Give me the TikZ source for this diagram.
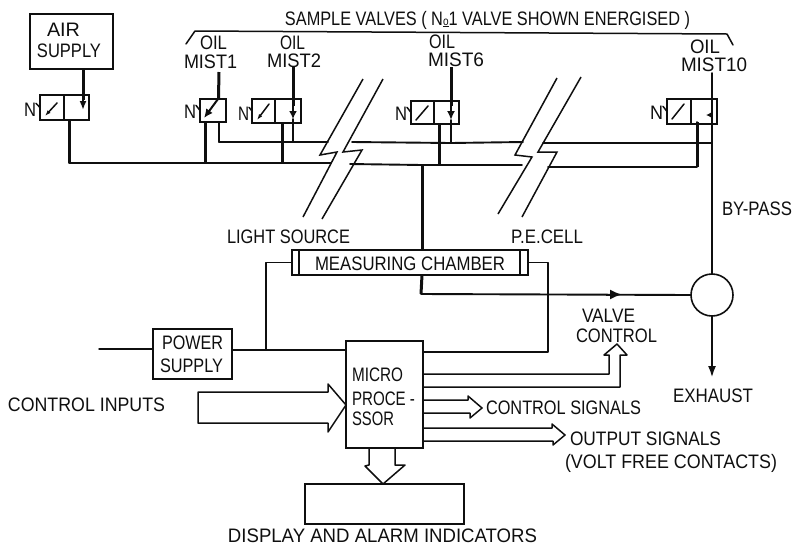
\documentclass[tikz,border=0pt]{standalone}
\usepackage{fontspec}
\usepackage{graphicx}
\setmainfont{Liberation Sans}
\usetikzlibrary{arrows.meta,calc}
\definecolor{ink}{gray}{0.06}
\tikzset{
  thinl/.style={draw=ink,line width=1.5pt,line join=round,line cap=round},
  busl/.style={draw=ink,line width=1.9pt,line join=round,line cap=round},
  heavyl/.style={draw=ink,line width=3pt,line join=round},
  breakl/.style={draw=ink,line width=1.5pt,line join=miter},
  boxs/.style={draw=ink,line width=1.6pt,inner sep=0pt,outer sep=0pt,fill=white},
  lab/.style={inner sep=0pt,outer sep=0pt,text=ink,anchor=center}
}
% name, x1, x2, y-centre, text
\newcommand{\lbl}[5]{%
  \pgfmathsetmacro{\lcx}{(#2+#3)/2}\pgfmathsetmacro{\lw}{#3-#2}%
  \node[lab] (#1) at (\lcx,#4) {\resizebox{\lw pt}{\height}{\fontsize{19.5}{19.5}\selectfont #5}};}
% name, x1, y1, x2, y2
\newcommand{\bx}[5]{%
  \pgfmathsetmacro{\bcx}{(#2+#4)/2}\pgfmathsetmacro{\bcy}{(#3+#5)/2}%
  \pgfmathsetmacro{\bw}{#4-#2}\pgfmathsetmacro{\bh}{#5-#3}%
  \node[boxs,minimum width=\bw pt,minimum height=\bh pt] (#1) at (\bcx,\bcy) {};}
\begin{document}
\begin{tikzpicture}[x=1pt,y=-1pt]
\useasboundingbox (0,0) rectangle (794,547);
\fill[white] (0,0) rectangle (794,547);

% boxes
\bx{air}{30}{14}{113}{69}
\bx{v0l}{40}{95}{64}{120}
\bx{v0r}{64}{95}{89}{120}
\bx{v1}{200}{99}{226}{122}
\bx{v2l}{252}{99}{275}{123}
\bx{v2r}{275}{99}{301}{123}
\bx{v6l}{411}{101}{434}{124}
\bx{v6r}{434}{101}{459}{124}
\bx{v10l}{667}{99}{691}{124}
\bx{v10r}{691}{99}{717}{124}
\bx{chamber}{292}{250}{528}{275}
\bx{lsrc}{292}{250}{299}{275}
\bx{pec}{520}{250}{528}{275}
\bx{psu}{153}{329}{232}{379}
\bx{micro}{346}{341}{423}{448}
\bx{disp}{305}{484}{464}{524}
\node[boxs,circle,minimum size=42pt] (vlv) at (712,295) {};

% named junctions
\coordinate (b0) at (69,163);
\coordinate (b1) at (205,163);
\coordinate (b2) at (282,163);
\coordinate (bm) at (439,165);
\coordinate (bc) at (422,165);
\coordinate (u1) at (219,142);
\coordinate (u2) at (293,142);
\coordinate (u6) at (451,143);
\coordinate (u10) at (712,143);
\coordinate (l10) at (697,167);
\coordinate (t1) at (219,72);
\coordinate (t2) at (293,67);
\coordinate (t6) at (451,67);
\coordinate (t10) at (712,73);
\coordinate (pin) at (99,349);
\coordinate (pjoin) at (266,350);
\coordinate (exh) at (712,378);
\coordinate (sink) at (421,294);

% air supply
\draw[heavyl] (83,69) -- (83,100);
\draw[draw=ink,line width=2pt,-{Latex[length=9pt,width=7pt]}] (83,96) -- (83,110);
\draw[heavyl] (69,120) -- (b0);

% bus lines, broken at the two zigzags
\draw[busl] (b0) -- (b1) -- (b2) -- (331,163);
\draw[busl] (350,164) -- (bc) -- (bm) -- (522,165);
\draw[busl] (548,167) -- (l10) -- (697,122);
\draw[busl] (u1) -- (u2) -- (328,142);
\draw[busl] (352,142) -- (u6) -- (523,142);
\draw[busl] (543,143) -- (u10);

% sample valves
\draw[heavyl] (t1) -- (218.5,98);
\draw[draw=ink,line width=2pt,-{Latex[length=9pt,width=8pt]}] (218,99) -- (204,118);
\draw[heavyl] (205,122) -- (b1);
\draw[busl] (219,122) -- (u1);

\draw[heavyl] (t2) -- (293,106);
\draw[draw=ink,line width=2pt,-{Latex[length=8pt,width=8pt]}] (293,104) -- (293,119);
\draw[busl] (293,119) -- (u2);
\draw[heavyl] (282,123) -- (b2);

\draw[heavyl] (t6) -- (451,106);
\draw[draw=ink,line width=2pt,-{Latex[length=9pt,width=8pt]}] (451,104) -- (451,120);
\draw[busl] (451,120) -- (u6);
\draw[heavyl] (439,124) -- (bm);

\draw[busl] (t10) -- (712,274);
\draw[draw=ink,line width=1.6pt,-{Latex[length=5pt,width=5pt]}] (712,115) -- (706,115);
\draw[heavyl] (697,122) -- (697,167);

% solenoid diagonals
\draw[thinl,-{Latex[length=6pt,width=4pt]}] (57,103) -- (45,116);
\draw[thinl,-{Latex[length=6pt,width=4pt]}] (269,104) -- (257,120);
\draw[thinl] (428,106) -- (416,120);
\draw[thinl] (684,104) -- (672,119);

% N labels and their stubs
\lbl{n0}{24}{36}{110}{N}
\lbl{n1}{184}{196}{112}{N}
\lbl{n2}{238}{249}{114}{N}
\lbl{n6}{395}{407}{114}{N}
\lbl{n10}{650}{663}{113}{N}
\draw[thinl] (n0.north east) -- (v0l.west);
\draw[thinl] (n1.north east) -- (v1.west);
\draw[thinl] (n2.north east) -- (v2l.west);
\draw[thinl] (n6.north east) -- (v6l.west);
\draw[thinl] (n10.north east) -- (v10l.west);

% bracket
\draw[thinl] (186,44) -- (195,31) -- (727,34) -- (733,45);

% break zigzags
\draw[breakl] (363,79) -- (320,155) -- (337,152) -- (303,217);
\draw[breakl] (383,79) -- (343,152) -- (362,150) -- (322,219);
\draw[breakl] (557,78) -- (515,155) -- (532,157) -- (498,214);
\draw[breakl] (581,77) -- (538,152) -- (557,152) -- (522,217);

% chamber feeds
\draw[heavyl] (bc) -- (422,250);
\draw[heavyl] (422,275) -- (sink);
\draw[busl] (sink) -- (vlv.west);
\draw[draw=ink,line width=2pt,-{Latex[length=12pt,width=10pt]}] (606,294.5) -- (622,294.5);
\draw[draw=ink,line width=2.4pt,-{Latex[length=12pt,width=8pt]}] (vlv.south) -- (exh);

% power wiring
\draw[thinl] (pin) -- (psu.west |- pin);
\draw[thinl] (psu.east |- pjoin) -- (micro.west |- pjoin);
\draw[thinl] (lsrc.west) -- (266,262.5) -- (pjoin);
\draw[thinl] (pec.east) -- (548,262.5) -- (548,352) -- (423,352);

% valve control arrow
\draw[thinl] (423,374) -- (609,374) -- (609,355) -- (604,355) -- (617,344) -- (627,355) -- (620,355) -- (620,387) -- (423,387);
% control signals arrow
\draw[thinl] (423,400) -- (468,400) -- (468,396) -- (482,408) -- (470,418) -- (470,413) -- (423,413);
% output signals arrow
\draw[thinl] (423,428) -- (552,428) -- (552,424) -- (565,435) -- (553,445) -- (553,441) -- (423,441);
% control inputs arrow
\draw[thinl] (346,405) -- (328,384) -- (328,392) -- (198,392) -- (198,423) -- (328,423) -- (328,432) -- cycle;
% display arrow
\draw[thinl] (369,448) -- (369,465) -- (365,466) -- (383,484) -- (405,465) -- (395,465) -- (395,448);

% labels
\lbl{tair}{47}{80}{30}{AIR}
\lbl{tsup}{37}{101}{51}{SUPPLY}
\lbl{tsv}{285}{690}{20}{SAMPLE VALVES ( N{\fontsize{12}{12}\selectfont\underline{o}}1 VALVE SHOWN ENERGISED )}
\lbl{to1}{200}{227}{43}{OIL}
\lbl{tm1}{184}{237}{62}{MIST1}
\lbl{to2}{280}{305}{43}{OIL}
\lbl{tm2}{267}{321}{61}{MIST2}
\lbl{to6}{429}{455}{42}{OIL}
\lbl{tm6}{428}{484}{60}{MIST6}
\lbl{to10}{690}{720}{47}{OIL}
\lbl{tm10}{681}{747}{65}{MIST10}
\lbl{tbp}{722}{792}{209}{BY-PASS}
\lbl{tls}{227}{350}{237}{LIGHT SOURCE}
\lbl{tpe}{511}{583}{237}{P.E.CELL}
\lbl{tmc}{315}{505}{263.5}{MEASURING CHAMBER}
\lbl{tp1}{162}{223}{343}{POWER}
\lbl{tp2}{160}{223}{366}{SUPPLY}
\lbl{tvv}{582}{635}{316}{VALVE}
\lbl{tvc}{576}{657}{336}{CONTROL}
\lbl{tm}{352}{403}{375}{MICRO}
\lbl{tpr}{352}{415}{399}{PROCE -}
\lbl{tss}{352}{394}{419}{SSOR}
\lbl{tex}{673}{753}{396}{EXHAUST}
\lbl{tcs}{486}{641}{408}{CONTROL SIGNALS}
\lbl{tos}{570}{721}{439}{OUTPUT SIGNALS}
\lbl{tvf}{565}{777}{463}{(VOLT FREE CONTACTS)}
\lbl{tci}{8}{165}{405}{CONTROL INPUTS}
\lbl{tda}{228}{537}{536}{DISPLAY AND ALARM INDICATORS}
\end{tikzpicture}
\end{document}
